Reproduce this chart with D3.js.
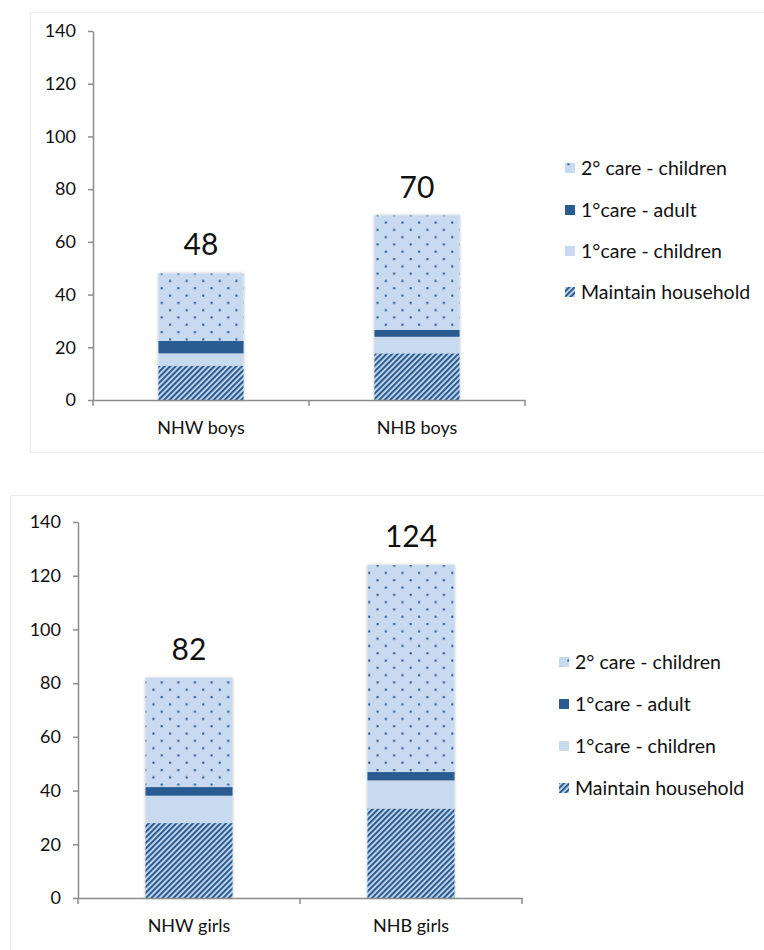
<!DOCTYPE html>
<html>
<head>
<meta charset="utf-8">
<script src="https://cdn.jsdelivr.net/npm/d3@7/dist/d3.min.js"></script>
<style>
  html, body { margin: 0; padding: 0; background: #fff; }
  svg { display: block; font-family: Lato, "Open Sans", "Liberation Sans", sans-serif; }
</style>
</head>
<body>
<svg id="chart" width="764" height="950"></svg>
<script>
// Series, bottom to top of each stacked bar
const seriesNames = ["Maintain household", "1°care - children", "1°care - adult", "2° care - children"];
const legendOrder = ["2° care - children", "1°care - adult", "1°care - children", "Maintain household"];

// Boys panel
const boysCategories = ["NHW boys", "NHB boys"];
const boysMaintain = [13.0, 17.7];
const boysCare1Children = [4.7, 6.3];
const boysCare1Adult = [4.7, 2.6];
const boysCare2Children = [25.6, 43.4];

// Girls panel
const girlsCategories = ["NHW girls", "NHB girls"];
const girlsMaintain = [27.9, 33.3];
const girlsCare1Children = [10.2, 10.5];
const girlsCare1Adult = [3.2, 3.1];
const girlsCare2Children = [40.7, 77.1];

const yTicks = [0, 20, 40, 60, 80, 100, 120, 140];

const DARK = "#2b5c91";
const LIGHT = "#c8daf0";
const FONT = "Lato, 'Open Sans', sans-serif";

const svg = d3.select("#chart");
const defs = svg.append("defs");

// Wide upward diagonal hatch
const hatch = defs.append("pattern")
  .attr("id", "hatch").attr("patternUnits", "userSpaceOnUse")
  .attr("width", 3.9).attr("height", 3.9)
  .attr("patternTransform", "rotate(45)");
hatch.append("rect").attr("width", 3.9).attr("height", 3.9).attr("fill", LIGHT);
hatch.append("rect").attr("width", 2.1).attr("height", 3.9).attr("fill", DARK);

// Staggered dots
const dots = defs.append("pattern")
  .attr("id", "dots").attr("patternUnits", "userSpaceOnUse")
  .attr("width", 16.6).attr("height", 14.6);
dots.append("rect").attr("width", 16.6).attr("height", 14.6).attr("fill", LIGHT);
dots.append("rect").attr("x", 3).attr("y", 2.5).attr("width", 2.1).attr("height", 2.1).attr("fill", DARK);
dots.append("rect").attr("x", 11.3).attr("y", 9.8).attr("width", 2.1).attr("height", 2.1).attr("fill", DARK);

// Soft shadow around bars
const sh = defs.append("filter").attr("id", "barShadow")
  .attr("x", "-20%").attr("y", "-5%").attr("width", "140%").attr("height", "110%");
sh.append("feGaussianBlur").attr("in", "SourceAlpha").attr("stdDeviation", 1.6).attr("result", "b");
sh.append("feComponentTransfer").attr("in", "b").attr("result", "s")
  .append("feFuncA").attr("type", "linear").attr("slope", 0.3);
const mg = sh.append("feMerge");
mg.append("feMergeNode").attr("in", "s");
mg.append("feMergeNode").attr("in", "SourceGraphic");

const fills = {
  "Maintain household": "url(#hatch)",
  "1°care - children": LIGHT,
  "1°care - adult": DARK,
  "2° care - children": "url(#dots)"
};

function drawPanel(cfg) {
  const g = svg.append("g");

  // frame
  g.append("rect")
    .attr("x", cfg.frame[0] + 0.5).attr("y", cfg.frame[1] + 0.5)
    .attr("width", cfg.frame[2]).attr("height", cfg.frame[3])
    .attr("fill", "none").attr("stroke", "#ececec").attr("stroke-width", 1);

  const rows = cfg.categories.map((c, i) => ({
    category: c,
    "Maintain household": cfg.maintain[i],
    "1°care - children": cfg.care1Children[i],
    "1°care - adult": cfg.care1Adult[i],
    "2° care - children": cfg.care2Children[i]
  }));
  const stacked = d3.stack().keys(seriesNames)(rows);

  const x = d3.scaleBand().domain(cfg.categories)
    .range([cfg.x0, cfg.x1]).paddingInner(cfg.pad).paddingOuter(cfg.pad / 2);
  const y = d3.scaleLinear().domain([0, 140]).range([cfg.y0, cfg.y1]);

  // bars
  cfg.categories.forEach((c, i) => {
    const bar = g.append("g").attr("filter", "url(#barShadow)");
    stacked.forEach(layer => {
      const d = layer[i];
      bar.append("rect")
        .attr("x", x(c)).attr("width", x.bandwidth())
        .attr("y", y(d[1])).attr("height", y(d[0]) - y(d[1]))
        .attr("fill", fills[layer.key]);
    });
  });

  // total labels
  g.selectAll(".total").data(rows).join("text")
    .attr("x", d => x(d.category) + x.bandwidth() / 2)
    .attr("y", d => y(d3.sum(seriesNames, k => d[k])) - 18)
    .attr("text-anchor", "middle")
    .attr("font-size", 30).attr("fill", "#111")
    .text(d => d3.format(".0f")(d3.sum(seriesNames, k => d[k])));

  // y axis
  const ya = g.append("g").attr("transform", `translate(${cfg.x0},0)`)
    .call(d3.axisLeft(y).tickValues(yTicks).tickSize(5).tickSizeOuter(0).tickPadding(12));
  ya.select(".domain").attr("stroke", "#8c8c8c").attr("stroke-width", 1.5);
  ya.selectAll(".tick line").attr("stroke", "#8c8c8c").attr("stroke-width", 1.5);
  ya.selectAll(".tick text").attr("font-size", 18).attr("fill", "#111")
    .attr("font-family", FONT);

  // x axis with ticks at category boundaries
  const xa = g.append("g").attr("transform", `translate(0,${cfg.y0})`)
    .call(d3.axisBottom(x).tickSize(0).tickPadding(21).tickSizeOuter(0));
  xa.select(".domain").attr("stroke", "#8c8c8c").attr("stroke-width", 1.5);
  xa.selectAll(".tick text").attr("font-size", 18).attr("fill", "#111")
    .attr("font-family", FONT);
  const bounds = d3.range(cfg.categories.length + 1).map(i => cfg.x0 + x.step() * i);
  xa.selectAll(".bound").data(bounds).join("line")
    .attr("x1", d => d).attr("x2", d => d).attr("y1", 0).attr("y2", 6)
    .attr("stroke", "#8c8c8c").attr("stroke-width", 1.5);

  // legend
  const lg = g.append("g");
  legendOrder.forEach((name, i) => {
    const cy = cfg.legendY[i];
    lg.append("rect")
      .attr("x", cfg.legendX).attr("y", cy - 5)
      .attr("width", 10).attr("height", 10)
      .attr("fill", fills[name]);
    lg.append("text")
      .attr("x", cfg.legendX + 16).attr("y", cy + 7)
      .attr("font-size", 19.5).attr("fill", "#111")
      .text(name);
  });
}

drawPanel({
  frame: [30, 12, 760, 440],
  categories: boysCategories,
  maintain: boysMaintain, care1Children: boysCare1Children,
  care1Adult: boysCare1Adult, care2Children: boysCare2Children,
  x0: 93, x1: 525, pad: 0.606,
  y0: 400, y1: 31,
  legendX: 565, legendY: [168, 210, 251, 292]
});

drawPanel({
  frame: [10, 495, 780, 480],
  categories: girlsCategories,
  maintain: girlsMaintain, care1Children: girlsCare1Children,
  care1Adult: girlsCare1Adult, care2Children: girlsCare2Children,
  x0: 78, x1: 522, pad: 0.608,
  y0: 898, y1: 522,
  legendX: 559, legendY: [662, 704, 746, 788]
});
</script>
</body>
</html>
